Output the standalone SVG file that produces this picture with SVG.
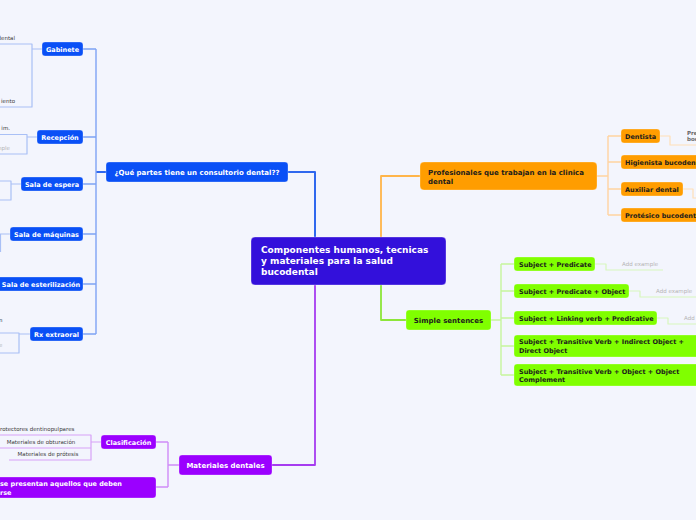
<svg xmlns="http://www.w3.org/2000/svg" width="696" height="520" viewBox="0 0 696 520">
<style>
text{font-family:"DejaVu Sans","Liberation Sans",Arial,sans-serif;}
.n{font-weight:bold;font-size:6.5px;}
.m{font-weight:bold;font-size:7px;}
.w{fill:#ffffff;}
.d{fill:#1c1c1c;}
.s{font-size:5.5px;fill:#3a3a3a;}
.g{font-size:5.5px;fill:#b4b4b4;}
.c{fill:none;stroke-linejoin:round;}
.b1{stroke:#2f68ee;stroke-width:2;}
.b2{stroke:#7ea3f4;stroke-width:1.4;}
.b3{stroke:#a9c0f6;stroke-width:1.2;}
.o1{stroke:#ffb54a;stroke-width:1.8;}
.o2{stroke:#ffd3a0;stroke-width:1.4;}
.o3{stroke:#ffe0b8;stroke-width:1.2;}
.g1{stroke:#8de63a;stroke-width:1.8;}
.g2{stroke:#c6f59c;stroke-width:1.4;}
.g3{stroke:#d8f7bd;stroke-width:1.2;}
.p1{stroke:#a63cf0;stroke-width:1.8;}
.p2{stroke:#cf8cf7;stroke-width:1.4;}
.p3{stroke:#d7a2f7;stroke-width:1.2;}
.blue{fill:#0a50f6;stroke:#ffffff;stroke-opacity:.35;stroke-width:.8;}
.or{fill:#ff9d00;stroke:#ffffff;stroke-opacity:.35;stroke-width:.8;}
.gr{fill:#80ff00;stroke:#ffffff;stroke-opacity:.35;stroke-width:.8;}
.pu{fill:#9b00ff;stroke:#ffffff;stroke-opacity:.35;stroke-width:.8;}
</style>
<rect width="696" height="520" fill="#f3f5fd"/>
<g id="connectors">
  <path class="c b1" d="M315 237 V172 H288"/>
  <path class="c b1" d="M106 172 H96"/>
  <path class="c b2" d="M96 49 V334 M96 49 H83 M96 137 H83 M96 184 H83 M96 234 H83 M96 284 H83 M96 334 H83"/>
  <path class="c b3" d="M42 49 H32 M0 44 H32 V107 H0"/>
  <path class="c b3" d="M37 137 H27 M0 134.5 H27 V154 H0"/>
  <path class="c b3" d="M21 184 H11 M0 181 H11 V200 H0"/>
  <path class="c b3" d="M10 234 H0.5 V252"/>
  <path class="c b3" d="M30 334 H19 M0 333 H19 V353 H0"/>
  <path class="c o1" d="M381 237 V176 H420"/>
  <path class="c o2" d="M597 176 H608 M608 136 V215 M608 136 H621 M608 162 H621 M608 189 H621 M608 215 H621"/>
  <path class="c o3" d="M660 136 H670 V145 H696"/>
  <path class="c o3" d="M683 189 H693 V198 H696"/>
  <path class="c g1" d="M381 285 V320 H406"/>
  <path class="c g2" d="M491 320 H501 M501 264 V375 M501 264 H514 M501 291 H514 M501 318 H514 M501 346 H514 M501 375 H514"/>
  <path class="c g3" d="M595 264 H606 V270 H663"/>
  <path class="c g3" d="M629 291 H640 V297 H696"/>
  <path class="c g3" d="M657 318 H668 V324 H696"/>
  <path class="c p1" d="M315 285 V465 H272"/>
  <path class="c p2" d="M179 465 H168 M168 442 V487 M168 442 H156 M168 487 H156"/>
  <path class="c p3" d="M101 442 H91 M0 435 H91 V460 H9 M0 448 H91"/>
</g>
<g id="central">
  <rect x="251" y="237" width="195" height="48" rx="4" fill="#3310db" stroke="#ffffff" stroke-opacity=".4" stroke-width=".8"/>
  <text x="261" y="253" class="w" font-weight="bold" font-size="9">Componentes humanos, tecnicas</text>
  <text x="261" y="264" class="w" font-weight="bold" font-size="9">y materiales para la salud</text>
  <text x="261" y="275" class="w" font-weight="bold" font-size="9">bucodental</text>
</g>
<g id="partes">
  <rect x="106" y="162" width="182" height="20" rx="3" class="blue"/>
  <text x="197" y="174.5" text-anchor="middle" class="m w">¿Qué partes tiene un consultorio dental??</text>
</g>
<g id="gabinete">
  <rect x="42" y="42" width="41" height="14" rx="3" class="blue"/>
  <text x="62.5" y="51.5" text-anchor="middle" class="n w">Gabinete</text>
  <text x="15" y="40" text-anchor="end" class="s">dental</text>
  <text x="15" y="102.5" text-anchor="end" class="s">iento</text>
</g>
<g id="recepcion">
  <rect x="37" y="130" width="46" height="14" rx="3" class="blue"/>
  <text x="60" y="139.5" text-anchor="middle" class="n w">Recepción</text>
  <text x="10" y="130" text-anchor="end" class="s">im.</text>
  <text x="10" y="149.5" text-anchor="end" class="g">mple</text>
</g>
<g id="espera">
  <rect x="21" y="177" width="62" height="14" rx="3" class="blue"/>
  <text x="52" y="186.5" text-anchor="middle" class="n w">Sala de espera</text>
</g>
<g id="maquinas">
  <rect x="10" y="227" width="73" height="14" rx="3" class="blue"/>
  <text x="46.5" y="236.5" text-anchor="middle" class="n w">Sala de máquinas</text>
</g>
<g id="esterilizacion">
  <rect x="-3" y="277" width="86" height="14" rx="3" class="blue"/>
  <text x="41" y="286.5" text-anchor="middle" class="n w">Sala de esterilización</text>
</g>
<g id="rx">
  <rect x="30" y="327" width="53" height="14" rx="3" class="blue"/>
  <text x="56.5" y="336.5" text-anchor="middle" class="n w">Rx extraoral</text>
  <text x="2.5" y="322" text-anchor="end" class="s">n</text>
  <text x="2.5" y="347" text-anchor="end" class="g">e</text>
</g>
<g id="profesionales">
  <rect x="420" y="162" width="177" height="28" rx="4" class="or"/>
  <text x="428" y="175" class="m d">Profesionales que trabajan en la clinica</text>
  <text x="428" y="184" class="m d">dental</text>
</g>
<g id="dentista">
  <rect x="621" y="129" width="39" height="14" rx="3" class="or"/>
  <text x="625" y="138.5" class="n d">Dentista</text>
  <text x="687" y="134.5" class="s" font-weight="bold" style="fill:#666">Pre</text>
  <text x="687" y="141" class="s" font-weight="bold" style="fill:#666">boc</text>
</g>
<g id="higienista">
  <rect x="621" y="155" width="80" height="14" rx="3" class="or"/>
  <text x="625" y="164.5" class="n d">Higienista bucodental</text>
</g>
<g id="auxiliar">
  <rect x="621" y="182" width="62" height="14" rx="3" class="or"/>
  <text x="625" y="191.5" class="n d">Auxiliar dental</text>
</g>
<g id="protesico">
  <rect x="621" y="208" width="80" height="14" rx="3" class="or"/>
  <text x="625" y="217.5" class="n d">Protésico bucodental</text>
</g>
<g id="simple">
  <rect x="406" y="310" width="85" height="20" rx="3" class="gr"/>
  <text x="448.5" y="322.5" text-anchor="middle" class="m d">Simple sentences</text>
</g>
<g id="s1">
  <rect x="514" y="257" width="81" height="14" rx="3" class="gr"/>
  <text x="519" y="266.5" class="n d">Subject + Predicate</text>
  <text x="622" y="266" class="g">Add example</text>
</g>
<g id="s2">
  <rect x="514" y="284" width="115" height="14" rx="3" class="gr"/>
  <text x="519" y="293.5" class="n d">Subject + Predicate + Object</text>
  <text x="656" y="293" class="g">Add example</text>
</g>
<g id="s3">
  <rect x="514" y="311" width="143" height="14" rx="3" class="gr"/>
  <text x="519" y="320.5" class="n d">Subject + Linking verb + Predicative</text>
  <text x="684" y="320" class="g">Add</text>
</g>
<g id="s4">
  <rect x="514" y="335" width="186" height="22" rx="3" class="gr"/>
  <text x="519" y="344" class="n d">Subject + Transitive Verb + Indirect Object +</text>
  <text x="519" y="352.5" class="n d">Direct Object</text>
</g>
<g id="s5">
  <rect x="514" y="364" width="186" height="22" rx="3" class="gr"/>
  <text x="519" y="373.5" class="n d">Subject + Transitive Verb + Object + Object</text>
  <text x="519" y="382" class="n d">Complement</text>
</g>
<g id="materiales">
  <rect x="179" y="455" width="93" height="20" rx="3" class="pu"/>
  <text x="225.5" y="467.5" text-anchor="middle" class="m w">Materiales dentales</text>
</g>
<g id="clasificacion">
  <rect x="101" y="435" width="55" height="14" rx="3" class="pu"/>
  <text x="128.5" y="444.5" text-anchor="middle" class="n w">Clasificación</text>
  <text x="0" y="430.5" class="s">rotectores dentinopulpares</text>
  <text x="41" y="443.5" text-anchor="middle" class="s">Materiales de obturación</text>
  <text x="48" y="455.5" text-anchor="middle" class="s">Materiales de prótesis</text>
</g>
<g id="presentan">
  <rect x="-4" y="477" width="160" height="21" rx="3" class="pu"/>
  <text x="0" y="486" class="n w">se presentan aquellos que deben</text>
  <text x="0" y="494.5" class="n w">rse</text>
</g>
</svg>
